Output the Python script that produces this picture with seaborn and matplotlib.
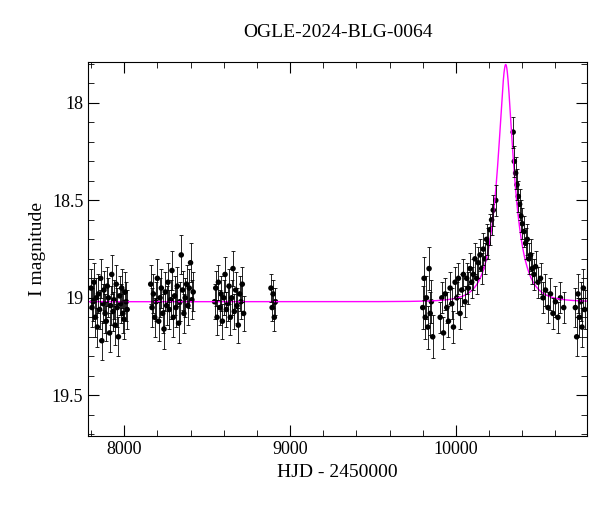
import numpy as np
import pandas as pd
import matplotlib.pyplot as plt
import seaborn as sns
from matplotlib.ticker import MultipleLocator

t1 = [7800, 7806, 7812, 7818, 7825, 7832, 7838, 7845, 7852, 7858, 7865, 7872, 7878, 7885, 7892,
      7898, 7905, 7912, 7918, 7925, 7932, 7938, 7945, 7952, 7958, 7965, 7972, 7978, 7985, 7992,
      7998, 8005, 8012, 8018]
m1 = [18.95, 19.05, 19.02, 18.92, 19.10, 19.00, 19.15, 18.98, 19.06, 18.90, 19.22, 19.03, 18.96, 19.08,
      19.12, 18.94, 19.00, 19.18, 19.04, 18.88, 19.07, 19.01, 19.14, 18.93, 19.05, 19.20, 18.99, 19.03,
      18.95, 19.08, 19.11, 18.97, 19.02, 19.06]
t2 = [8160, 8168, 8176, 8184, 8192, 8200, 8208, 8216, 8224, 8232, 8240, 8248, 8256, 8264, 8272,
      8280, 8288, 8296, 8304, 8312, 8320, 8328, 8336, 8344, 8352, 8360, 8368, 8376, 8384, 8392,
      8400, 8408, 8416]
m2 = [18.93, 19.05, 18.98, 19.10, 19.02, 18.90, 19.12, 19.00, 18.95, 19.08, 19.16, 18.97, 19.04, 18.92,
      19.06, 19.01, 18.86, 19.10, 18.99, 19.05, 18.94, 19.13, 19.02, 18.78, 18.96, 19.08, 19.00, 18.93,
      19.04, 18.95, 18.82, 19.01, 18.97]
t3 = [8545, 8552, 8560, 8568, 8576, 8584, 8592, 8600, 8608, 8616, 8624, 8632, 8640, 8648, 8656,
      8664, 8672, 8680, 8688, 8696, 8704, 8712, 8720]
m3 = [19.02, 18.95, 19.10, 18.92, 19.05, 18.98, 19.12, 19.00, 18.88, 19.06, 19.03, 18.94, 19.10, 19.00,
      18.85, 19.07, 18.96, 19.04, 19.14, 18.98, 19.02, 18.93, 19.08]
t4 = [8885, 8892, 8898, 8905, 8912]
m4 = [18.95, 19.05, 18.98, 19.10, 19.02]
t5 = [9800, 9808, 9815, 9822, 9830, 9838, 9845, 9852, 9860]
m5 = [19.05, 18.90, 19.10, 19.00, 19.15, 18.85, 19.08, 19.02, 19.20]
t6 = [9905, 9915, 9925, 9935, 9945, 9955, 9965, 9975, 9985, 9995, 10005, 10015, 10025, 10035, 10045,
      10055, 10065, 10075, 10085, 10095, 10105, 10115, 10125, 10135, 10145, 10155, 10165, 10175,
      10185, 10195, 10205, 10215, 10225, 10240, 10345, 10352, 10360, 10368, 10376, 10384, 10392,
      10400, 10410, 10420, 10430, 10440, 10450, 10460, 10470, 10480, 10495, 10510, 10525, 10540,
      10555, 10570, 10585, 10600, 10615, 10630, 10650]
m6 = [19.10, 19.00, 19.18, 18.98, 19.05, 19.12, 18.95, 19.03, 19.15, 18.92, 19.00, 18.90, 19.08, 18.96,
      18.88, 19.02, 18.90, 18.95, 18.85, 18.92, 18.88, 18.80, 18.90, 18.82, 18.78, 18.85, 18.75, 18.80,
      18.70, 18.72, 18.65, 18.60, 18.55, 18.50, 18.15, 18.30, 18.36, 18.42, 18.48, 18.52, 18.58,
      18.62, 18.66, 18.72, 18.70, 18.80, 18.78, 18.85, 18.88, 18.84, 18.92, 18.90, 19.00, 18.96,
      19.05, 18.98, 19.08, 19.02, 19.10, 19.00, 19.05]
t7 = [10720, 10728, 10736, 10744, 10752, 10760, 10768, 10776]
m7 = [19.05, 19.20, 18.98, 19.10, 19.02, 19.15, 18.95, 19.06]
season_err = [0.10, 0.10, 0.09, 0.07, 0.11, 0.08, 0.10]

# fitted model parameters
t0, tE, u0, base = 10300, 100, 0.34, 19.02

seasons = [(t1, m1), (t2, m2), (t3, m3), (t4, m4), (t5, m5), (t6, m6), (t7, m7)]
df = pd.concat([pd.DataFrame({"hjd": t, "mag": m, "err": e})
                for (t, m), e in zip(seasons, season_err)], ignore_index=True)

tm = np.linspace(7780, 10790, 2000)
u = np.sqrt(u0 ** 2 + ((tm - t0) / tE) ** 2)
amp = (u ** 2 + 2) / (u * np.sqrt(u ** 2 + 4))
model = base - 2.5 * np.log10(amp)

plt.rcParams["font.family"] = "Liberation Serif"
fig, ax = plt.subplots(figsize=(6, 5.12), dpi=100)
sns.lineplot(x=tm, y=model, color="magenta", lw=1, ax=ax)
ax.errorbar(df["hjd"], df["mag"], yerr=df["err"], fmt="none", ecolor="black", elinewidth=0.6, capsize=1.5, capthick=0.6)
sns.scatterplot(data=df, x="hjd", y="mag", color="black", s=16, edgecolor="none", ax=ax)

ax.set_xlim(7783, 10789)
ax.set_ylim(19.71, 17.79)
ax.xaxis.set_major_locator(MultipleLocator(1000))
ax.xaxis.set_minor_locator(MultipleLocator(200))
ax.yaxis.set_major_locator(MultipleLocator(0.5))
ax.yaxis.set_minor_locator(MultipleLocator(0.1))
ax.set_yticks([18, 18.5, 19, 19.5], ["18", "18.5", "19", "19.5"])
ax.tick_params(which="both", direction="in", top=True, right=True, labelsize=13)
ax.tick_params(which="major", length=8)
ax.tick_params(which="minor", length=4)
ax.set_xlabel("HJD - 2450000", fontsize=14)
ax.set_ylabel("I magnitude", fontsize=14)
ax.set_title("OGLE-2024-BLG-0064", fontsize=14, pad=18)
fig.subplots_adjust(left=0.147, right=0.978, top=0.879, bottom=0.148)
fig.savefig("out.png")
